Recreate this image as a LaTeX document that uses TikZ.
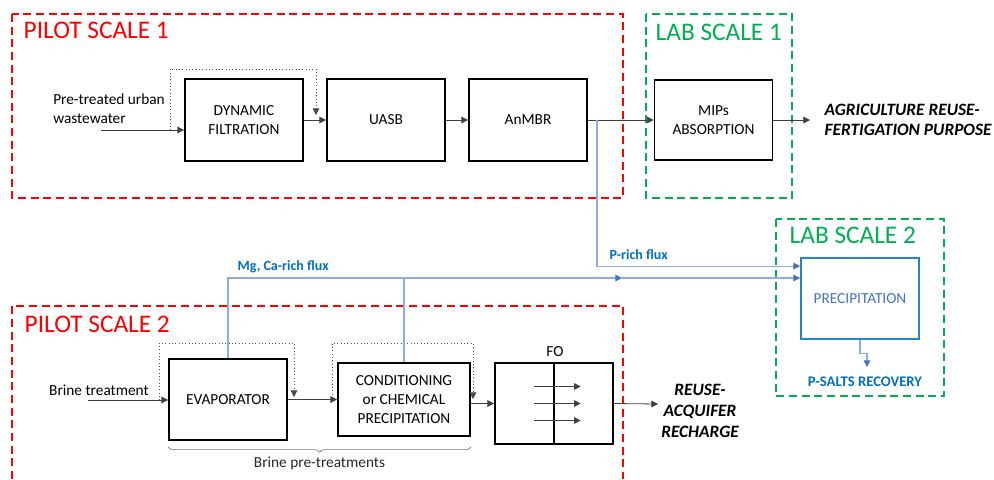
\documentclass[tikz,border=0pt]{standalone}
\usepackage{fontspec}
\setmainfont{Carlito}
\usetikzlibrary{arrows.meta, positioning, calc, decorations.pathreplacing}
\definecolor{scalered}{RGB}{255,0,0}
\definecolor{scalegreen}{RGB}{0,176,80}
\definecolor{fluxblue}{RGB}{0,112,192}
\definecolor{fluxline}{RGB}{143,170,220}
\definecolor{tipblue}{RGB}{68,114,196}

\tikzset{
  procbox/.style={draw, line width=1.4pt, minimum width=88.5pt, minimum height=61.5pt, align=center, font=\fontsize{11.5}{14}\selectfont},
  scalebox/.style={dash pattern=on 6pt off 3.5pt, line width=1.4pt},
  flow/.style={draw=black!75, line width=0.6pt, -{Triangle[width=5pt,length=5pt]}},
  bypass/.style={draw=black!70, line width=0.5pt, dotted, -{Triangle[width=5pt,length=5pt]}},
  pflow/.style={draw=fluxline, line width=0.8pt, -{Triangle[width=5pt,length=5pt,color=tipblue]}},
  scalelabel/.style={anchor=base west, font=\fontsize{19}{22}\selectfont},
  outlabel/.style={align=center, font=\fontsize{13}{15.5}\selectfont\bfseries\itshape},
  fluxlabel/.style={anchor=base west, text=fluxblue, font=\fontsize{10.5}{12}\selectfont\bfseries},
  txt/.style={font=\fontsize{11.5}{14}\selectfont, align=left}
}

\begin{document}
\begin{tikzpicture}[x=0.75pt, y=-0.75pt]
\useasboundingbox (0,0) rectangle (994,479);

% Scale frames
\draw[scalebox, scalered] (12,14) rectangle (623,198);
\draw[scalebox, scalegreen] (646,14) rectangle (792,198);
\draw[scalebox, scalegreen] (776,219) rectangle (944,396);
\draw[scalebox, scalered] (12,479) -- (12,306) -- (623,306) -- (623,479);
\node[scalelabel, text=scalered] (pilot1) at (19,38) {PILOT SCALE 1};
\node[scalelabel, text=scalegreen] (lab1) at (651,40) {LAB SCALE 1};
\node[scalelabel, text=scalegreen] (lab2) at (785,243) {LAB SCALE 2};
\node[scalelabel, text=scalered] (pilot2) at (20,332) {PILOT SCALE 2};

% Wastewater line
\node[procbox] (filt) at (244,120) {DYNAMIC\\FILTRATION};
\node[procbox] (uasb) at (386,120) {UASB};
\node[procbox] (anmbr) at (528,120) {AnMBR};
\node[procbox, minimum height=60pt] (mips) at (713.5,120) {MIPs\\ABSORPTION};
\node[txt] (pretreat) at (109,109) {Pre-treated urban\\wastewater};
\coordinate (pin) at (101,130);
\coordinate (fbA) at (170,130);
\coordinate (agri) at (810,120);
\draw[flow] (pin) -- (pin -| filt.west);
\draw[bypass] (fbA) |- ++(146,-61) -- ++(0,46);
\draw[flow] (filt) -- (uasb);
\draw[flow] (uasb) -- (anmbr);
\draw[flow] (anmbr) -- (mips);
\draw[flow] (mips) -- (agri);
\node[outlabel, anchor=west, align=left] (agritext) at (820,120) {AGRICULTURE REUSE-\\FERTIGATION PURPOSE};

% Brine line
\node[procbox, minimum height=60.75pt] (evap) at (228,399.5) {EVAPORATOR};
\node[procbox, minimum width=99pt, minimum height=54.75pt] (cond) at (404,399.5) {CONDITIONING\\or CHEMICAL\\PRECIPITATION};
\node[procbox, minimum height=60.75pt] (fo) at (554,403.5) {};
\node[txt] (folabel) at (555,352) {FO};
\draw[line width=0.8pt] (fo.north) -- (fo.south);
\foreach \dy in {-17,0,17}
  \draw[flow] ([shift={(-15pt,\dy*0.75pt)}]fo.center) -- ++(35pt,0);
\node[txt] (brine) at (99,390) {Brine treatment};
\coordinate (bin) at (88,400);
\coordinate (evfb) at (159,400);
\coordinate (cofb) at (332,401);
\coordinate (reuse) at (658,404);
\draw[flow] (bin) -- (bin -| evap.west);
\draw[bypass] (evfb) |- ++(135,-57) -- ++(0,54);
\draw[flow] (evap) -- (cond);
\draw[bypass] (cofb) |- ++(141,-58) -- ++(0,56);
\draw[flow] (cond.east |- fo.west) -- (fo.west);
\draw[flow] (fo.east) -- (reuse);
\node[outlabel] (reusetext) at (700,411) {REUSE-\\ACQUIFER\\RECHARGE};
\draw[black!55, line width=0.5pt, decorate, decoration={brace, mirror, amplitude=4pt}]
  ([yshift=-4.5pt]evap.south west) -- ([yshift=-4.5pt]evap.south west -| cond.east)
  node[midway, below=4pt, txt, text=black!85] (brinepre) {Brine pre-treatments};

% Precipitation and fluxes
\node[procbox, draw=fluxblue!85, minimum height=60.75pt, text=tipblue] (precip) at (860,298.5) {PRECIPITATION};
\coordinate (ptap) at (597,120);
\coordinate (mgmid) at (622,278);
\coordinate (psalt) at (867,367);
\draw[pflow] (ptap) |- ([yshift=-6.75pt]precip.north west);
\draw[pflow] (evap.north) |- (mgmid);
\draw[pflow, -] (cond.north) -- (cond.north |- mgmid);
\draw[pflow] (mgmid) -- (mgmid -| precip.west);
\draw[pflow] (precip.south) -- ++(0,14) -| (psalt);
\node[fluxlabel] (mglabel) at (233,270) {Mg, Ca-rich flux};
\node[fluxlabel] (plabel) at (605,259) {P-rich flux};
\node[text=fluxblue, font=\fontsize{11}{13}\selectfont\bfseries] (psalttext) at (865,382) {P-SALTS RECOVERY};
\end{tikzpicture}
\end{document}
